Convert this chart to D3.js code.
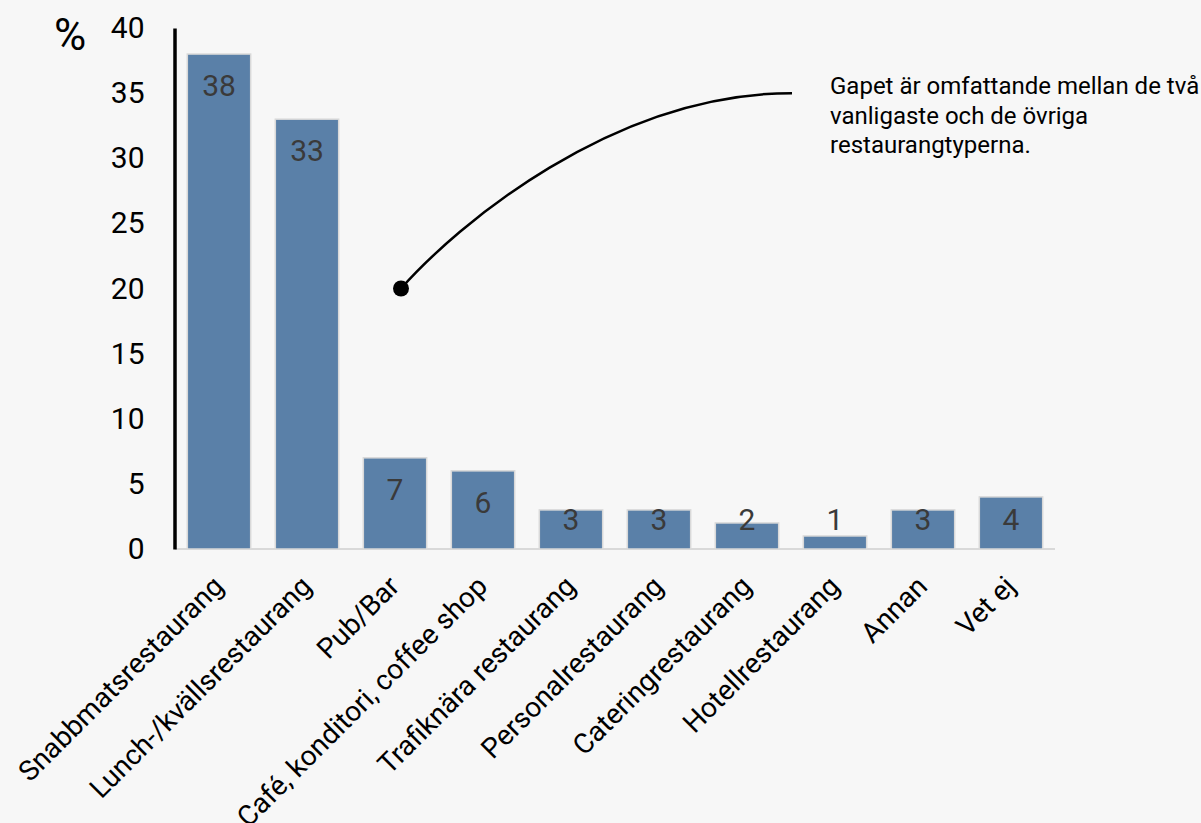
<!DOCTYPE html>
<html>
<head>
<meta charset="utf-8">
<script src="https://cdn.jsdelivr.net/npm/d3@7"></script>
<style>
  html, body { margin: 0; padding: 0; background: #f7f7f7; }
  svg { display: block; font-family: Roboto, "Noto Sans", sans-serif; }
</style>
</head>
<body>
<svg id="chart" width="1201" height="823"></svg>
<script>
// data
let categories = [
  "Snabbmatsrestaurang",
  "Lunch-/kvällsrestaurang",
  "Pub/Bar",
  "Café, konditori, coffee shop",
  "Trafiknära restaurang",
  "Personalrestaurang",
  "Cateringrestaurang",
  "Hotellrestaurang",
  "Annan",
  "Vet ej",
];
let values = [38, 33, 7, 6, 3, 3, 2, 1, 3, 4];
let yTicks = [0, 5, 10, 15, 20, 25, 30, 35, 40];
let noteLines = [
  "Gapet är omfattande mellan de två",
  "vanligaste och de övriga",
  "restaurangtyperna.",
];
let noteFrom = { cat: "Pub/Bar", value: 20 };
let noteTo = { value: 35 };

let svg = d3.select("#chart");
let width = 1201, height = 823;

svg.append("rect").attr("width", width).attr("height", height).attr("fill", "#f7f7f7");

let x = d3.scaleBand()
  .domain(categories)
  .range([175, 1055])
  .paddingInner(0.28)
  .paddingOuter(0.14);

let y = d3.scaleLinear().domain([0, 40]).range([549, 28]);

// baseline
svg.append("line")
  .attr("x1", 175).attr("x2", 1055)
  .attr("y1", y(0)).attr("y2", y(0))
  .attr("stroke", "#d9d9d9").attr("stroke-width", 2);

// bars
svg.selectAll("rect.bar")
  .data(values)
  .enter()
  .append("rect")
  .attr("class", "bar")
  .attr("x", (d, i) => x(categories[i]))
  .attr("y", (d) => y(d))
  .attr("width", x.bandwidth())
  .attr("height", (d) => y(0) - y(d))
  .attr("fill", "#5a80a8")
  .attr("stroke", "#d9d9d9")
  .attr("stroke-width", 1.5);

// value labels (kept above the baseline for short bars)
svg.selectAll("text.val")
  .data(values)
  .enter()
  .append("text")
  .attr("class", "val")
  .attr("x", (d, i) => x(categories[i]) + x.bandwidth() / 2)
  .attr("y", (d) => Math.min(y(d) + 31, y(0) - 30))
  .attr("dy", "0.36em")
  .attr("text-anchor", "middle")
  .attr("font-size", 30)
  .attr("fill", "#3a3a3a")
  .text((d) => d);

// y axis
let yAxis = d3.axisLeft(y).tickValues(yTicks).tickSize(0).tickPadding(30);
let gy = svg.append("g").attr("transform", "translate(174.5,0)").call(yAxis);
gy.select(".domain").attr("stroke", "#000").attr("stroke-width", 3.5);
gy.selectAll("text").attr("font-size", 30).attr("fill", "#000")
  .attr("font-family", "Roboto, sans-serif");

svg.append("text")
  .attr("x", 70).attr("y", 50)
  .attr("text-anchor", "middle")
  .attr("font-size", 44)
  .text("%");

// x labels
svg.selectAll("text.cat")
  .data(categories)
  .enter()
  .append("text")
  .attr("class", "cat")
  .attr("transform", (d) => `translate(${x(d) + x.bandwidth() / 2 + 6},${588}) rotate(-45)`)
  .attr("text-anchor", "end")
  .attr("font-size", 28)
  .attr("fill", "#000")
  .text((d) => d);

// annotation
let x0 = x(noteFrom.cat) + x.bandwidth() / 2 + 6, y0 = y(noteFrom.value);
let tx = 830;
let x1 = tx - 38, y1 = y(noteTo.value);
let path = d3.path();
path.moveTo(x0, y0);
path.bezierCurveTo(x0 + 55, y0 - 62, x1 - 180, y1, x1, y1);
svg.append("path")
  .attr("d", path.toString())
  .attr("fill", "none")
  .attr("stroke", "#000")
  .attr("stroke-width", 2.5);
svg.append("circle").attr("cx", x0).attr("cy", y0).attr("r", 8).attr("fill", "#000");

svg.append("text")
  .attr("x", tx).attr("y", 94)
  .attr("font-size", 24)
  .attr("fill", "#000")
  .selectAll("tspan")
  .data(noteLines)
  .enter()
  .append("tspan")
  .attr("x", tx)
  .attr("dy", (d, i) => (i === 0 ? 0 : 29.5))
  .text((d) => d);
</script>
</body>
</html>
